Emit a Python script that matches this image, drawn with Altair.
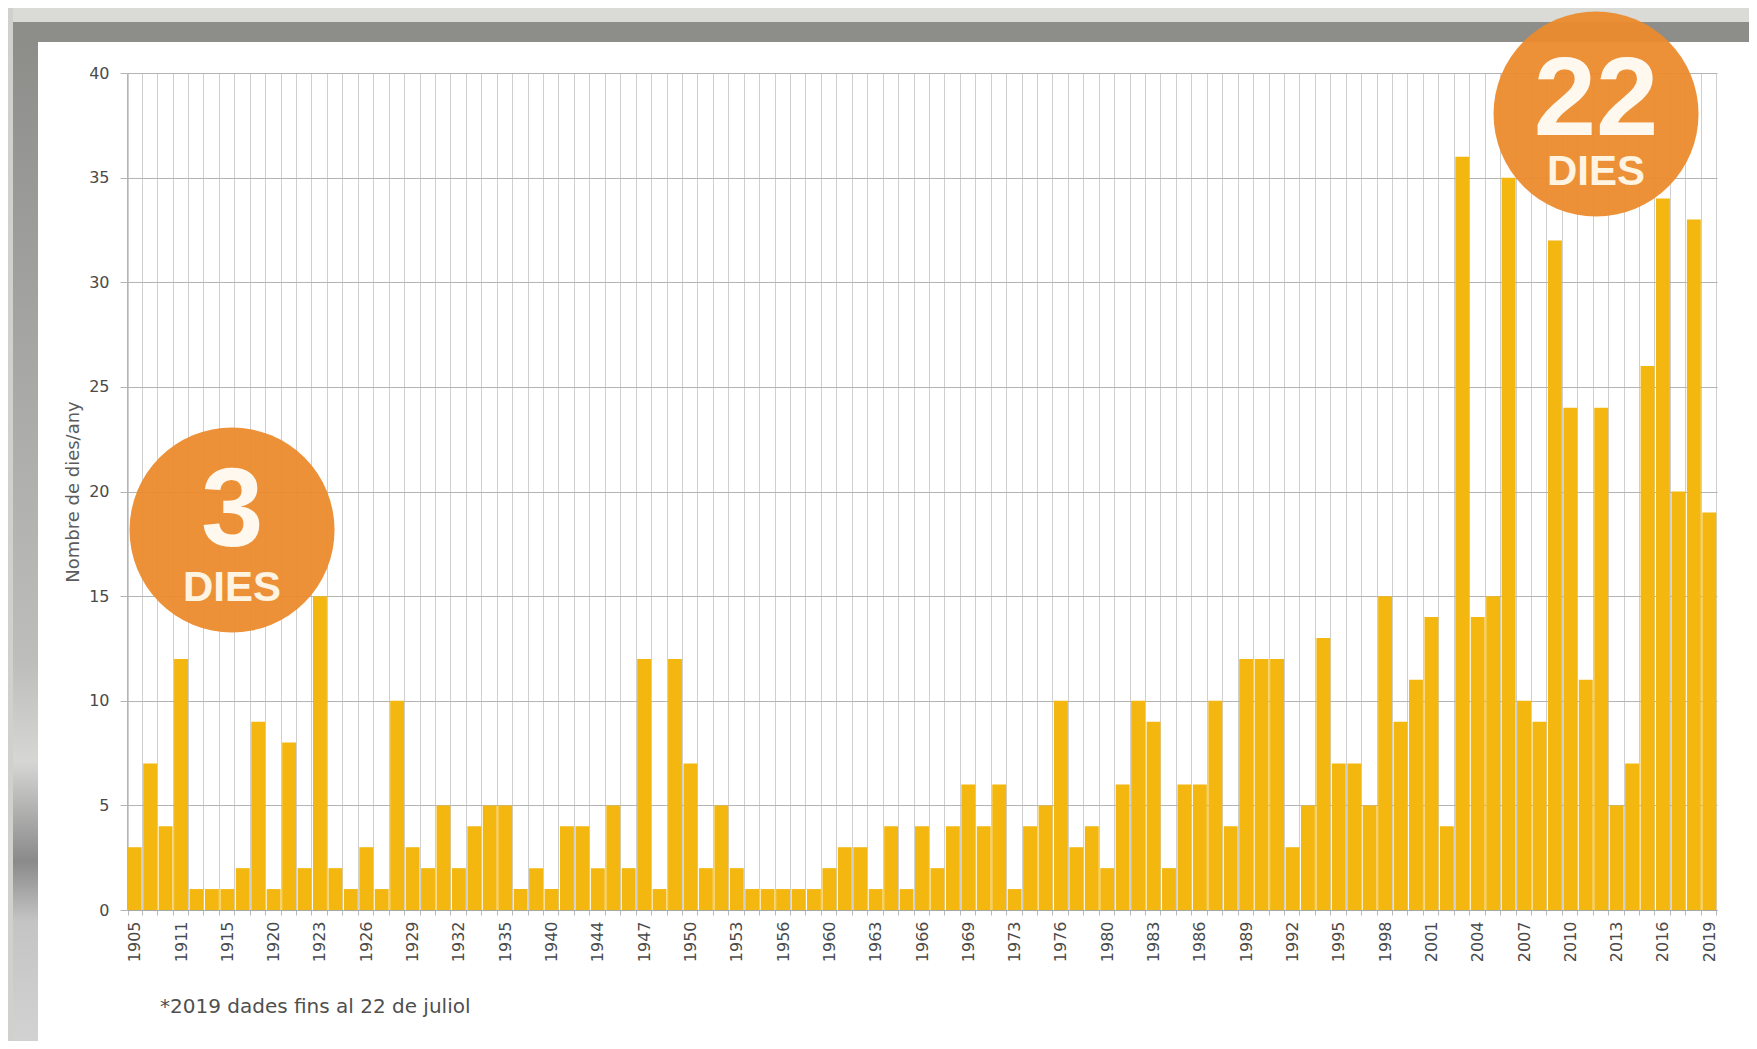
import altair as alt
import pandas as pd

# ---------------- data ----------------
years = [1905, 1909, 1910, 1911, 1912, 1914, 1915, 1918, 1919, 1920,
         1921, 1922, 1923, 1924, 1925, 1926, 1927, 1928, 1929, 1930,
         1931, 1932, 1933, 1934, 1935, 1936, 1939, 1940, 1942, 1943,
         1944, 1945, 1946, 1947, 1948, 1949, 1950, 1951, 1952, 1953,
         1954, 1955, 1956, 1958, 1959, 1960, 1961, 1962, 1963, 1964,
         1965, 1966, 1967, 1968, 1969, 1970, 1972, 1973, 1974, 1975,
         1976, 1978, 1979, 1980, 1981, 1982, 1983, 1984, 1985, 1986,
         1987, 1988, 1989, 1990, 1991, 1992, 1993, 1994, 1995, 1996,
         1997, 1998, 1999, 2000, 2001, 2002, 2003, 2004, 2005, 2006,
         2007, 2008, 2009, 2010, 2011, 2012, 2013, 2014, 2015, 2016,
         2017, 2018, 2019]

days = [3, 7, 4, 12, 1, 1, 1, 2, 9, 1,
        8, 2, 15, 2, 1, 3, 1, 10, 3, 2,
        5, 2, 4, 5, 5, 1, 2, 1, 4, 4,
        2, 5, 2, 12, 1, 12, 7, 2, 5, 2,
        1, 1, 1, 1, 1, 2, 3, 3, 1, 4,
        1, 4, 2, 4, 6, 4, 6, 1, 4, 5,
        10, 3, 4, 2, 6, 10, 9, 2, 6, 6,
        10, 4, 12, 12, 12, 3, 5, 13, 7, 7,
        5, 15, 9, 11, 14, 4, 36, 14, 15, 35,
        10, 9, 32, 24, 11, 24, 5, 7, 26, 34,
        20, 33, 19]

shown_years = ["1905", "1911", "1915", "1920", "1923", "1926", "1929", "1932",
               "1935", "1940", "1944", "1947", "1950", "1953", "1956", "1960",
               "1963", "1966", "1969", "1973", "1976", "1980", "1983", "1986",
               "1989", "1992", "1995", "1998", "2001", "2004", "2007", "2010",
               "2013", "2016", "2019"]

y_ticks = [0, 5, 10, 15, 20, 25, 30, 35, 40]

ann_years = ["1915", "2012"]
ann_values = [18.16, 38.04]
ann_numbers = ["3", "22"]
ann_unit = "DIES"

y_title = "Nombre de dies/any"
note = "*2019 dades fins al 22 de juliol"

# ---------------- layout ----------------
W, H = 1590, 837
PAD = {"left": 119, "top": 65, "right": 32, "bottom": 131}
BAR = "#F3B70F"
ORANGE = "#EC8B2D"
FONT = "DejaVu Sans"

df = pd.DataFrame({"year": [str(v) for v in years], "days": days})
order = df["year"].tolist()
labels_js = "[" + ",".join("'" + s + "'" for s in shown_years) + "]"

x_enc = alt.X(
    "year:O", sort=order,
    scale=alt.Scale(paddingInner=0.1, paddingOuter=0.05),
    axis=alt.Axis(
        title=None, labelAngle=-90,
        labelExpr="indexof(" + labels_js + ", datum.label) >= 0 ? datum.label : ''",
        labelOverlap=False, labelFont=FONT, labelFontSize=16, labelColor="#4a4a4a",
        labelPadding=6, tickBand="extent", ticks=True, tickSize=5, tickColor="#b8b8b8",
        grid=True, gridColor="#cfcfcf", gridWidth=1,
        domain=True, domainColor="#a8a8a8",
    ),
)
y_enc = alt.Y(
    "days:Q",
    scale=alt.Scale(domain=[0, 40], nice=False),
    axis=alt.Axis(
        values=y_ticks, title=y_title, titleX=-54, titleY=H / 2, titleAngle=-90,
        titleAlign="center", titleBaseline="middle", titleFont=FONT, titleFontSize=18,
        titleFontWeight="normal", titleColor="#5c5c5c",
        labelFont=FONT, labelFontSize=16, labelColor="#4a4a4a", labelPadding=11,
        tickSize=7, tickColor="#b4b4b4", grid=True, gridColor="#b4b4b4",
        domain=True, domainColor="#b4b4b4",
    ),
)


def rect(x1, x2, y1, y2, color):
    return alt.Chart(alt.Data(values=[{}])).mark_rect(color=color).encode(
        x=alt.value(x1), x2=alt.value(x2), y=alt.value(y1), y2=alt.value(y2)
    )


left_grad = alt.LinearGradient(
    gradient="linear", x1=0, x2=0, y1=0, y2=1,
    stops=[
        alt.GradientStop(color="#8d8e8a", offset=0),
        alt.GradientStop(color="#a9aaa7", offset=0.35),
        alt.GradientStop(color="#bdbdbb", offset=0.62),
        alt.GradientStop(color="#d6d6d5", offset=0.72),
        alt.GradientStop(color="#8a8a8a", offset=0.82),
        alt.GradientStop(color="#c4c4c4", offset=0.88),
        alt.GradientStop(color="#d2d2d2", offset=1),
    ],
)

frame = [
    rect(-119, 1622, -65, -51, "#dadad6"),
    rect(-119, -114, -65, 968, "#d0d0cc"),
    rect(-114, 1622, -51, -31, "#8d8e8a"),
    alt.Chart(alt.Data(values=[{}])).mark_rect(color=left_grad).encode(
        x=alt.value(-114), x2=alt.value(-89), y=alt.value(-31), y2=alt.value(968)
    ),
]

bars = alt.Chart(df).mark_bar(color=BAR).encode(x=x_enc, y=y_enc)

offsets = [4.7, -5.2]
num_dy = [-18.5, -13.5]
badges = []
for i in range(len(ann_years)):
    d = pd.DataFrame({"year": [ann_years[i]], "days": [ann_values[i]],
                      "num": [ann_numbers[i]], "unit": [ann_unit]})
    base = alt.Chart(d).encode(x=alt.X("year:O", sort=order), y=alt.Y("days:Q"))
    badges.append(base.mark_circle(size=42025, color=ORANGE, opacity=0.95,
                                   xOffset=offsets[i]))
    badges.append(base.mark_text(font="Liberation Sans", fontWeight="bold", fontSize=112,
                                 color="#FFF8EE", align="center", baseline="middle",
                                 dx=offsets[i], dy=num_dy[i]).encode(text="num:N"))
    badges.append(base.mark_text(font="Liberation Sans", fontWeight="bold", fontSize=42,
                                 color="#FFF3E2", align="center", baseline="middle",
                                 dx=offsets[i], dy=58.4).encode(text="unit:N"))

note_mark = alt.Chart(alt.Data(values=[{"t": note}])).mark_text(
    font=FONT, fontSize=20, color="#4f4f4f", align="left", baseline="alphabetic"
).encode(x=alt.value(33), y=alt.value(940), text="t:N")

chart = alt.layer(*frame, bars, *badges, note_mark).properties(
    width=W, height=H,
    padding=PAD,
    autosize=alt.AutoSizeParams(type="none"),
    background="white",
).configure_view(stroke=None)

chart.save("out.html", embed_options={"renderer": "svg", "actions": False})
